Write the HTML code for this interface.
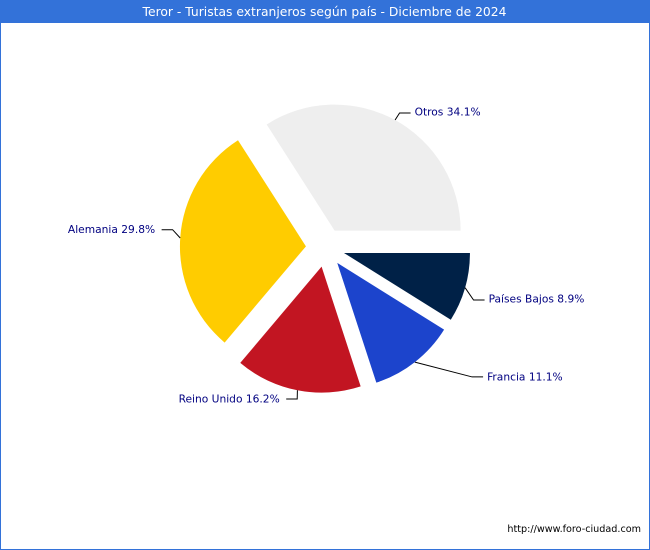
<!DOCTYPE html>
<html lang="es">
<head>
<meta charset="utf-8">
<title>Teror - Turistas extranjeros según país - Diciembre de 2024</title>
<style>
html,body{margin:0;padding:0;background:#fff;}
#chart{display:block;width:650px;height:550px;}
text{font-family:"DejaVu Sans","Liberation Sans",sans-serif;}
</style>
</head>
<body>
<svg id="chart" xmlns="http://www.w3.org/2000/svg" width="650" height="550" viewBox="0 0 650 550">
  <rect x="0.5" y="0.5" width="649" height="549" fill="#ffffff" stroke="#3372d9" stroke-width="1"/>
  <rect x="0" y="0" width="650" height="23" fill="#3372d9"/>
  <text x="324.5" y="16" text-anchor="middle" font-size="12.33" fill="#ffffff">Teror - Turistas extranjeros según país - Diciembre de 2024</text>
  <g id="slices"></g>
  <g id="leaders"></g>
  <g id="labels"></g>
  <text x="641" y="532" text-anchor="end" font-size="9.64" fill="#000000">http://www.foro-ciudad.com</text>
</svg>
<script>
// Data, clockwise from 3 o'clock
const categories = ["Países Bajos", "Francia", "Reino Unido", "Alemania", "Otros"];
const shares = [8.9, 11.1, 16.2, 29.8, 34.1];

// Styling and label layout, kept separate from the data
const sliceColors = {"Países Bajos":"#002147","Francia":"#1c44cc","Reino Unido":"#c21522","Alemania":"#ffcc00","Otros":"#eeeeee"};
const leaderNudge = {"Países Bajos":[8.5,12.3,-1],"Francia":[57.2,14.8,0],"Reino Unido":[-0.2,8.7,0],"Alemania":[-7.6,-8.3,-0.4],"Otros":[4.5,-7,-1]};
const cx = 325.3, cy = 247.6, radius = 126, explode = 19.4, leaderRun = 11, labelGapRight = 4, labelGapLeft = 6.5;

const svgNS = "http://www.w3.org/2000/svg";
const total = shares.reduce((a, b) => a + b, 0);
function angleOf(cumulative) { return cumulative / total * 2 * Math.PI; }
function polar(x, y, r, a) { return [x + r * Math.cos(a), y + r * Math.sin(a)]; }
function slug(s) { return s.toLowerCase().normalize("NFD").replace(/[\u0300-\u036f]/g, "").replace(/\s+/g, "-"); }

let cumulative = 0;
categories.forEach(function (cat, i) {
  const a0 = angleOf(cumulative);
  const a1 = angleOf(cumulative + shares[i]);
  const mid = (a0 + a1) / 2;
  cumulative += shares[i];

  const apex = polar(cx, cy, explode, mid);
  const p0 = polar(apex[0], apex[1], radius, a0);
  const p1 = polar(apex[0], apex[1], radius, a1);
  const large = (a1 - a0) > Math.PI ? 1 : 0;

  const path = document.createElementNS(svgNS, "path");
  path.setAttribute("d", "M" + apex[0] + " " + apex[1] + "L" + p0[0] + " " + p0[1] + "A" + radius + " " + radius + " 0 " + large + " 1 " + p1[0] + " " + p1[1] + "Z");
  path.setAttribute("fill", sliceColors[cat]);
  
  
  document.getElementById("slices").appendChild(path);

  const rim = polar(apex[0], apex[1], radius, mid);
  const nudge = leaderNudge[cat];
  const elbow = [rim[0] + nudge[0], rim[1] + nudge[1]];
  const side = Math.cos(mid) >= 0 ? 1 : -1;
  const end = [elbow[0] + side * leaderRun, elbow[1]];

  const line = document.createElementNS(svgNS, "polyline");
  line.setAttribute("points", rim.join(",") + " " + elbow.join(",") + " " + end.join(","));
  line.setAttribute("fill", "none");
  line.setAttribute("stroke", "#000000");
  line.setAttribute("stroke-width", "1");
  
  
  document.getElementById("leaders").appendChild(line);

  const label = document.createElementNS(svgNS, "text");
  label.setAttribute("x", end[0] + (side > 0 ? labelGapRight : -labelGapLeft));
  label.setAttribute("y", end[1] + 3.5 + nudge[2]);
  label.setAttribute("text-anchor", side > 0 ? "start" : "end");
  label.setAttribute("font-size", "10.67");
  label.setAttribute("fill", "#000080");
  
  
  label.textContent = cat + " " + shares[i].toFixed(1) + "%";
  document.getElementById("labels").appendChild(label);
});
</script>
</body>
</html>
